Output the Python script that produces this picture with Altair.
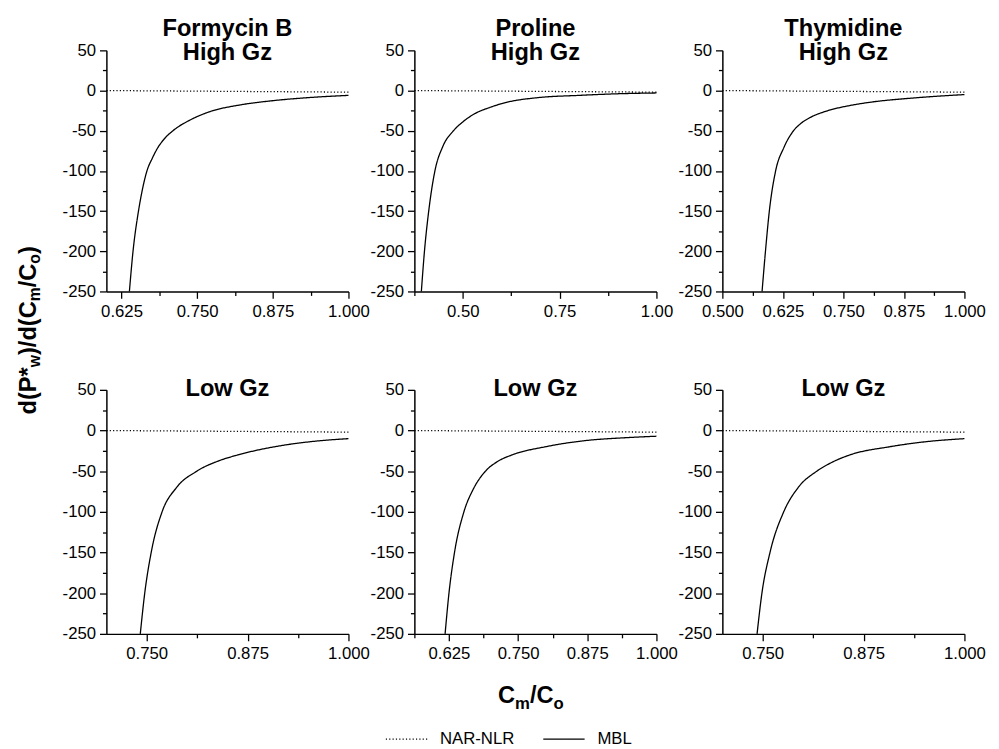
import altair as alt
import pandas as pd

FONT = "Liberation Sans"

# ---------------- data ----------------
panel_keys = ["FB_H", "PR_H", "TH_H", "FB_L", "PR_L", "TH_L"]
panel_titles = [["Formycin B", "High Gz"], ["Proline", "High Gz"], ["Thymidine", "High Gz"],
                "Low Gz", "Low Gz", "Low Gz"]
x_domains = [[0.6, 1.0], [0.375, 1.0], [0.5, 1.0], [0.7, 1.0], [0.5625, 1.0], [0.7, 1.0]]
x_tick_values = [
    [0.625, 0.6875, 0.75, 0.8125, 0.875, 0.9375, 1.0],
    [0.375, 0.5, 0.625, 0.75, 0.875, 1.0],
    [0.5, 0.5625, 0.625, 0.6875, 0.75, 0.8125, 0.875, 0.9375, 1.0],
    [0.75, 0.8125, 0.875, 0.9375, 1.0],
    [0.5625, 0.625, 0.6875, 0.75, 0.8125, 0.875, 0.9375, 1.0],
    [0.75, 0.8125, 0.875, 0.9375, 1.0],
]
x_major_step = [0.125, 0.25, 0.125, 0.125, 0.125, 0.125]
x_label_format = [".3f", ".2f", ".3f", ".3f", ".3f", ".3f"]
y_tick_values = list(range(-250, 51, 25))
series_names = ["NAR-NLR", "MBL"]

# MBL curves
mbl_x_fb_h = [0.638, 0.644, 0.653, 0.659, 0.667, 0.676, 0.685, 0.697, 0.71, 0.74, 0.772, 0.82, 0.87, 0.93, 1.0]
mbl_y_fb_h = [-250, -200, -150, -125, -100, -84, -71, -59, -50, -36, -26, -18, -13, -9, -6]
mbl_x_pr_h = [0.393, 0.401, 0.412, 0.428, 0.448, 0.476, 0.50, 0.53, 0.57, 0.61, 0.69, 0.8, 0.9, 1.0]
mbl_y_pr_h = [-250, -200, -150, -100, -70, -50, -39, -29, -21, -15, -9, -6, -4, -3]
mbl_x_th_h = [0.582, 0.589, 0.597, 0.610, 0.627, 0.647, 0.662, 0.68, 0.718, 0.76, 0.8, 0.9, 1.0]
mbl_y_th_h = [-250, -200, -150, -100, -71, -50, -41, -34, -25, -19, -15, -9, -5]
mbl_x_fb_l = [0.742, 0.7475, 0.7555, 0.769, 0.787, 0.812, 0.84, 0.863, 0.914, 0.96, 1.0]
mbl_y_fb_l = [-250, -200, -150, -100, -70, -50, -37, -30, -19, -13, -10]
mbl_x_pr_l = [0.618, 0.625, 0.635, 0.652, 0.669, 0.691, 0.713, 0.739, 0.799, 0.877, 0.94, 1.0]
mbl_y_pr_l = [-250, -200, -150, -100, -72, -50, -38, -30, -20, -12, -9, -7]
mbl_x_th_l = [0.743, 0.749, 0.759, 0.776, 0.794, 0.817, 0.836, 0.858, 0.907, 0.95, 1.0]
mbl_y_th_l = [-250, -200, -150, -100, -70, -50, -39, -30, -20, -14, -10]

# NAR-NLR (dotted) lines
nar_x_fb_h = [0.6, 1.0]
nar_y_fb_h = [0, -2]
nar_x_pr_h = [0.375, 1.0]
nar_y_pr_h = [0, -2]
nar_x_th_h = [0.5, 1.0]
nar_y_th_h = [0, -2]
nar_x_fb_l = [0.7, 1.0]
nar_y_fb_l = [0, -2]
nar_x_pr_l = [0.5625, 1.0]
nar_y_pr_l = [0, -2]
nar_x_th_l = [0.7, 1.0]
nar_y_th_l = [0, -2]

mbl_xs = [mbl_x_fb_h, mbl_x_pr_h, mbl_x_th_h, mbl_x_fb_l, mbl_x_pr_l, mbl_x_th_l]
mbl_ys = [mbl_y_fb_h, mbl_y_pr_h, mbl_y_th_h, mbl_y_fb_l, mbl_y_pr_l, mbl_y_th_l]
nar_xs = [nar_x_fb_h, nar_x_pr_h, nar_x_th_h, nar_x_fb_l, nar_x_pr_l, nar_x_th_l]
nar_ys = [nar_y_fb_h, nar_y_pr_h, nar_y_th_h, nar_y_fb_l, nar_y_pr_l, nar_y_th_l]

rows = []
for k, xs, ys in zip(panel_keys, nar_xs, nar_ys):
    for x, y in zip(xs, ys):
        rows.append({"panel": k, "series": "NAR-NLR", "x": x, "y": y})
for k, xs, ys in zip(panel_keys, mbl_xs, mbl_ys):
    for x, y in zip(xs, ys):
        rows.append({"panel": k, "series": "MBL", "x": x, "y": y})
df = pd.DataFrame(rows)
one = pd.DataFrame({"a": [0]})

# ---------------- layout ----------------
W = 246
H1 = 245
H2 = 248

legend = alt.Legend(
    orient="none", legendX=283, legendY=678, direction="horizontal", title=None,
    symbolType="stroke", symbolSize=1764, symbolStrokeWidth=1.2, symbolStrokeColor="black",
    labelFontSize=17, labelFont=FONT, labelColor="black", columnPadding=26,
    labelOffset=12, padding=0,
)

y_test = "datum.value % 50 === 0"
y_axis = alt.Axis(
    values=y_tick_values, title=None, grid=False,
    labelExpr=f"{y_test} ? ('' + datum.value) : ''",
    tickSize={"condition": {"test": y_test, "value": 7}, "value": 4},
    labelFontSize=17, labelFont=FONT, labelColor="black", labelPadding=4,
    domainColor="black", domainWidth=1.5, tickColor="black", tickWidth=1.3,
    labelOverlap=False,
)


def text_seg(txt, x, y, size, dx=0, dy=0, angle=0):
    return alt.Chart(one).mark_text(
        text=txt, font=FONT, fontSize=size, fontWeight="bold", color="black",
        align="left", baseline="alphabetic", angle=angle, dx=dx, dy=dy,
    ).encode(x=alt.value(x), y=alt.value(y))


def make_panel(i, height, title_offset):
    step = x_major_step[i]
    fmt = x_label_format[i]
    test = f"abs(datum.value / {step} - round(datum.value / {step})) < 1e-6"
    x_axis = alt.Axis(
        values=x_tick_values[i], title=None, grid=False,
        labelExpr=f"{test} ? format(datum.value, '{fmt}') : ''",
        tickSize={"condition": {"test": test, "value": 7}, "value": 4},
        labelFontSize=17, labelFont=FONT, labelColor="black", labelPadding=5,
        domainColor="black", domainWidth=1.5, tickColor="black", tickWidth=1.3,
        labelFlush=False, labelOverlap=False,
    )
    d = df[df["panel"] == panel_keys[i]]
    lines = alt.Chart(d).mark_line(color="black", strokeWidth=1.3, interpolate="monotone").encode(
        x=alt.X("x:Q", scale=alt.Scale(domain=x_domains[i], nice=False, zero=False), axis=x_axis),
        y=alt.Y("y:Q", scale=alt.Scale(domain=[-250, 50], nice=False, zero=False), axis=y_axis),
        strokeDash=alt.StrokeDash(
            "series:N",
            scale=alt.Scale(domain=series_names, range=[[1.2, 2.2], [1, 0]]),
            sort=series_names,
            legend=legend,
        ),
    )
    layers = [lines]
    if i == 0:
        # y-axis title d(P*_w)/d(C_m/C_o), reading bottom to top
        bx, by = -72, 370
        segs = [("d(P*", 24, 0, 0), ("w", 16, 48.0, 5), (")/d(C", 24, 60.4, 0),
                ("m", 16, 115.0, 5), ("/C", 24, 129.2, 0), ("o", 16, 153.2, 5), (")", 24, 163.0, 0)]
        for t, s, dx, dy in segs:
            layers.append(text_seg(t, bx, by, s, dx=dx, dy=dy, angle=270))
    if i == 4:
        # x-axis title C_m/C_o
        bx, by = 85, 318
        segs = [("C", 24, 0, 0), ("m", 17, 17.3, 6), ("/C", 24, 32.4, 0), ("o", 17, 56.4, 6)]
        for t, s, dx, dy in segs:
            layers.append(text_seg(t, bx, by, s, dx=dx, dy=dy))
    return alt.layer(*layers).properties(
        width=W, height=height,
        title=alt.TitleParams(
            text=panel_titles[i], fontSize=24, font=FONT, fontWeight="bold", color="black",
            offset=title_offset, lineHeight=25, anchor="middle",
        ),
    )


panels = [make_panel(i, H1, -24) for i in range(3)] + [make_panel(i, H2, -20) for i in range(3, 6)]

chart = alt.concat(
    *panels, columns=3, spacing={"row": 100, "column": 67}, bounds="flush"
).resolve_scale(
    strokeDash="shared"
).resolve_legend(strokeDash="shared").properties(
    padding={"left": 9, "top": 3, "right": 5, "bottom": 0},
    background="white",
).configure_view(stroke=None)

chart.save("out.html", embed_options={"renderer": "svg", "actions": False})
